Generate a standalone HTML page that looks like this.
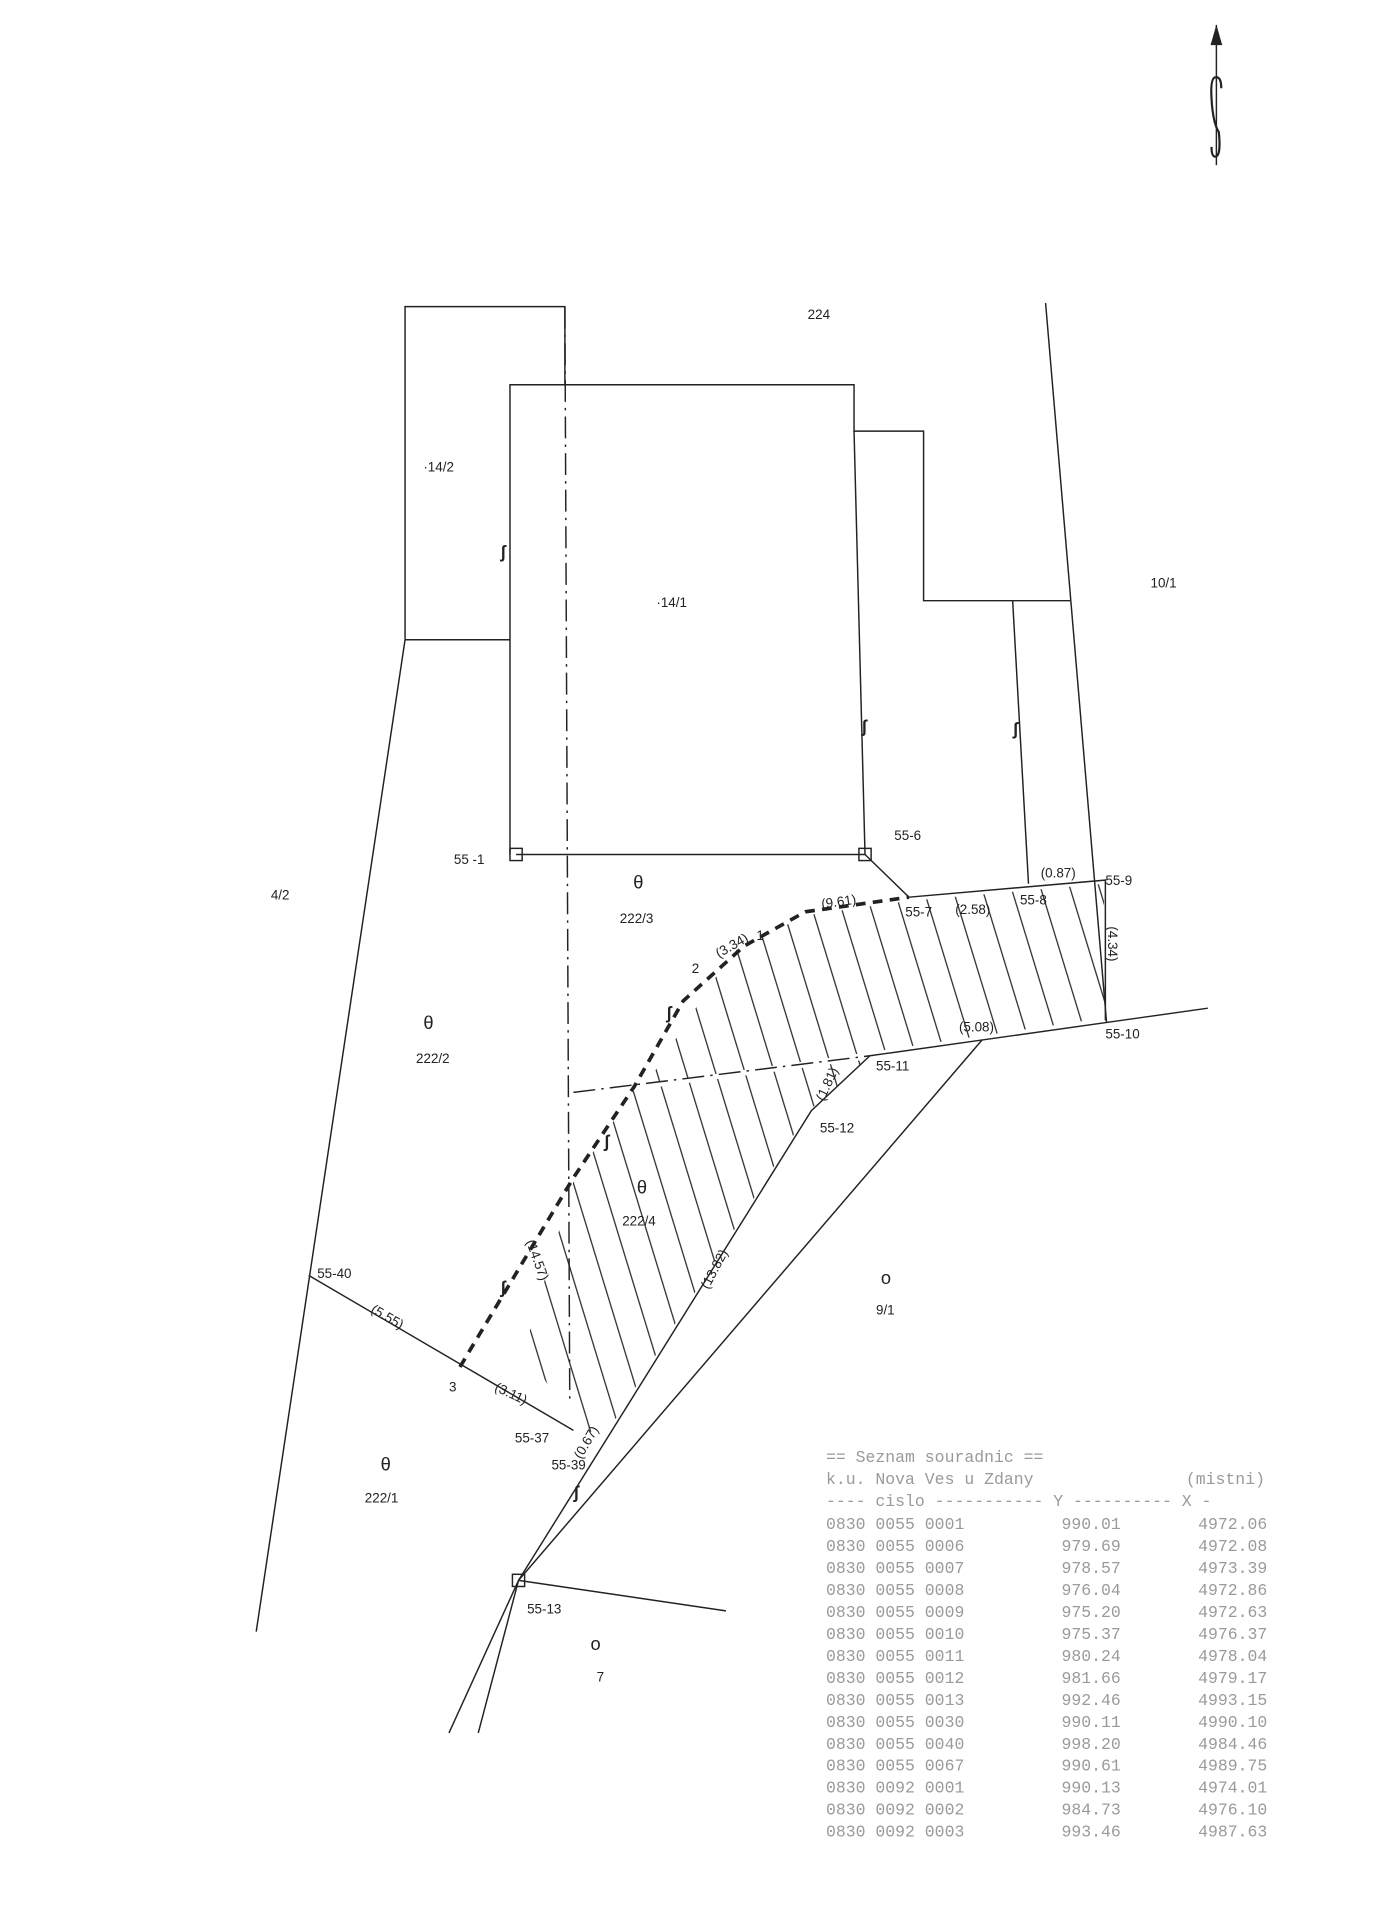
<!DOCTYPE html>
<html><head><meta charset="utf-8"><style>
html,body{margin:0;padding:0;background:#fff}
svg{display:block}
text{font-family:"Liberation Sans",sans-serif;fill:#222}
.m text{font-family:"Liberation Mono",monospace;fill:#9a9a9a;font-size:13.5px}
</style></head><body>
<svg width="1375" height="1920" viewBox="0 0 1127 1573" xmlns="http://www.w3.org/2000/svg">
<rect width="1127" height="1573" fill="#fff"/>
<g stroke="#222" stroke-width="1.2" fill="none">
<line x1="997" y1="20" x2="997" y2="135"/>
<path d="M993,36 L997,22 L1001,36 Z" fill="#222"/>
<path d="M1001,72 Q1001,62 996,63 Q992,64 993,80 Q994,100 999,108 Q1001,128 996,128 Q993,128 993,120" stroke-width="1.8"/>
<polyline points="332,524 332,251 463,251 463,315"/>
<line x1="332" y1="524" x2="418" y2="524"/>
<polyline points="418,700 418,315 700,315 700,353 757,353 757,492 877,492"/>
<line x1="700" y1="353" x2="709" y2="700"/>
<line x1="423" y1="700" x2="709" y2="700"/>
<line x1="857" y1="248" x2="907" y2="838"/>
<line x1="830" y1="492" x2="843" y2="724"/>
<polyline points="709,700 745,735 906,721 906,836"/>
<line x1="713" y1="865" x2="990" y2="826"/>
<polyline points="713,865 665,910 425,1295"/>
<line x1="805" y1="852" x2="425" y2="1295"/>
<line x1="332" y1="524" x2="210" y2="1337"/>
<line x1="253" y1="1045" x2="470" y2="1172"/>
<line x1="425" y1="1295" x2="595" y2="1320"/>
<line x1="425" y1="1295" x2="368" y2="1420"/>
<line x1="425" y1="1295" x2="392" y2="1420"/>
<rect x="418" y="695" width="10" height="10"/>
<rect x="704" y="695" width="10" height="10"/>
<rect x="420" y="1290" width="10" height="10"/>
<line x1="463" y1="251" x2="467" y2="1150" stroke-dasharray="18,5,2,5"/>
<line x1="470" y1="895" x2="713" y2="865" stroke-dasharray="18,5,2,5"/>
<polyline points="377,1120 470,965 520,890 560,820 610,775 660,747 745,735" stroke-width="3" stroke-dasharray="8,6"/>
</g>
<defs>
<clipPath id="c1"><polygon points="600,780 660,750 745,738 905,724 905,834 713,862 530,888"/></clipPath>
<clipPath id="c2"><polygon points="520,893 711,868 663,910 500,1170 475,1175 430,1105 470,968"/></clipPath>
<pattern id="h" patternUnits="userSpaceOnUse" width="23" height="120" patternTransform="rotate(-17)">
<line x1="5" y1="0" x2="5" y2="120" stroke="#222" stroke-width="1"/></pattern>
</defs>
<rect x="0" y="0" width="1127" height="1573" fill="url(#h)" clip-path="url(#c1)"/>
<rect x="0" y="0" width="1127" height="1573" fill="url(#h)" clip-path="url(#c2)"/>
<g font-size="11">
<text x="662" y="261">224</text>
<text x="347" y="386">·14/2</text>
<text x="538" y="497">·14/1</text>
<text x="943" y="481">10/1</text>
<text x="222" y="737">4/2</text>
<text x="372" y="708">55 -1</text>
<text x="733" y="688">55-6</text>
<text x="906" y="725">55-9</text>
<text x="906" y="851">55-10</text>
<text x="718" y="877">55-11</text>
<text x="672" y="928">55-12</text>
<text x="742" y="751">55-7</text>
<text x="783" y="749">(2.58)</text>
<text x="836" y="741">55-8</text>
<text x="853" y="719">(0.87)</text>
<text x="673" y="742" transform="rotate(-8 690 738)">(9.61)</text>
<text x="585" y="777" transform="rotate(-30 602 773)">(3.34)</text>
<text x="567" y="797">2</text>
<text x="620" y="770">1</text>
<text x="786" y="845">(5.08)</text>
<text x="662" y="892" transform="rotate(-65 677 887)">(1.81)</text>
<text x="898" y="777" transform="rotate(90 912 773)">(4.34)</text>
<text x="508" y="756">222/3</text>
<text x="341" y="871">222/2</text>
<text x="510" y="1004">222/4</text>
<text x="718" y="1077">9/1</text>
<text x="299" y="1231">222/1</text>
<text x="489" y="1378">7</text>
<text x="260" y="1047">55-40</text>
<text x="303" y="1084" transform="rotate(30 320 1080)">(5.55)</text>
<text x="405" y="1146" transform="rotate(25 420 1142)">(3.11)</text>
<text x="422" y="1182">55-37</text>
<text x="466" y="1186" transform="rotate(-60 480 1182)">(0.67)</text>
<text x="452" y="1204">55-39</text>
<text x="432" y="1322">55-13</text>
<text x="568" y="1044" transform="rotate(-62 585 1040)">(13.82)</text>
<text x="425" y="1034" transform="rotate(70 440 1030)">(14.57)</text>
<text x="368" y="1140">3</text>
</g>
<g font-size="15">
<text x="519" y="728">θ</text><text x="347" y="843">θ</text>
<text x="522" y="978">θ</text><text x="312" y="1205">θ</text>
<text x="722" y="1052">o</text><text x="484" y="1352">o</text>
</g>
<g font-size="14" font-weight="bold">
<text x="410" y="457">ʃ</text><text x="706" y="600">ʃ</text><text x="830" y="602">ʃ</text>
<text x="546" y="835">ʃ</text><text x="495" y="940">ʃ</text><text x="410" y="1060">ʃ</text>
<text x="470" y="1228">ʃ</text>
</g>
<g class="m">
<text x="677" y="1198">== Seznam souradnic ==</text>
<text x="677" y="1216">k.u. Nova Ves u Zdany</text><text x="972" y="1216">(mistni)</text>
<text x="677" y="1234">---- cislo ----------- Y ---------- X -</text>
<text x="677" y="1253">0830 0055 0001</text><text x="870" y="1253">990.01</text><text x="982" y="1253">4972.06</text>
<text x="677" y="1271">0830 0055 0006</text><text x="870" y="1271">979.69</text><text x="982" y="1271">4972.08</text>
<text x="677" y="1289">0830 0055 0007</text><text x="870" y="1289">978.57</text><text x="982" y="1289">4973.39</text>
<text x="677" y="1307">0830 0055 0008</text><text x="870" y="1307">976.04</text><text x="982" y="1307">4972.86</text>
<text x="677" y="1325">0830 0055 0009</text><text x="870" y="1325">975.20</text><text x="982" y="1325">4972.63</text>
<text x="677" y="1343">0830 0055 0010</text><text x="870" y="1343">975.37</text><text x="982" y="1343">4976.37</text>
<text x="677" y="1361">0830 0055 0011</text><text x="870" y="1361">980.24</text><text x="982" y="1361">4978.04</text>
<text x="677" y="1379">0830 0055 0012</text><text x="870" y="1379">981.66</text><text x="982" y="1379">4979.17</text>
<text x="677" y="1397">0830 0055 0013</text><text x="870" y="1397">992.46</text><text x="982" y="1397">4993.15</text>
<text x="677" y="1415">0830 0055 0030</text><text x="870" y="1415">990.11</text><text x="982" y="1415">4990.10</text>
<text x="677" y="1433">0830 0055 0040</text><text x="870" y="1433">998.20</text><text x="982" y="1433">4984.46</text>
<text x="677" y="1451">0830 0055 0067</text><text x="870" y="1451">990.61</text><text x="982" y="1451">4989.75</text>
<text x="677" y="1469">0830 0092 0001</text><text x="870" y="1469">990.13</text><text x="982" y="1469">4974.01</text>
<text x="677" y="1487">0830 0092 0002</text><text x="870" y="1487">984.73</text><text x="982" y="1487">4976.10</text>
<text x="677" y="1505">0830 0092 0003</text><text x="870" y="1505">993.46</text><text x="982" y="1505">4987.63</text>
</g>
</svg>
</body></html>
